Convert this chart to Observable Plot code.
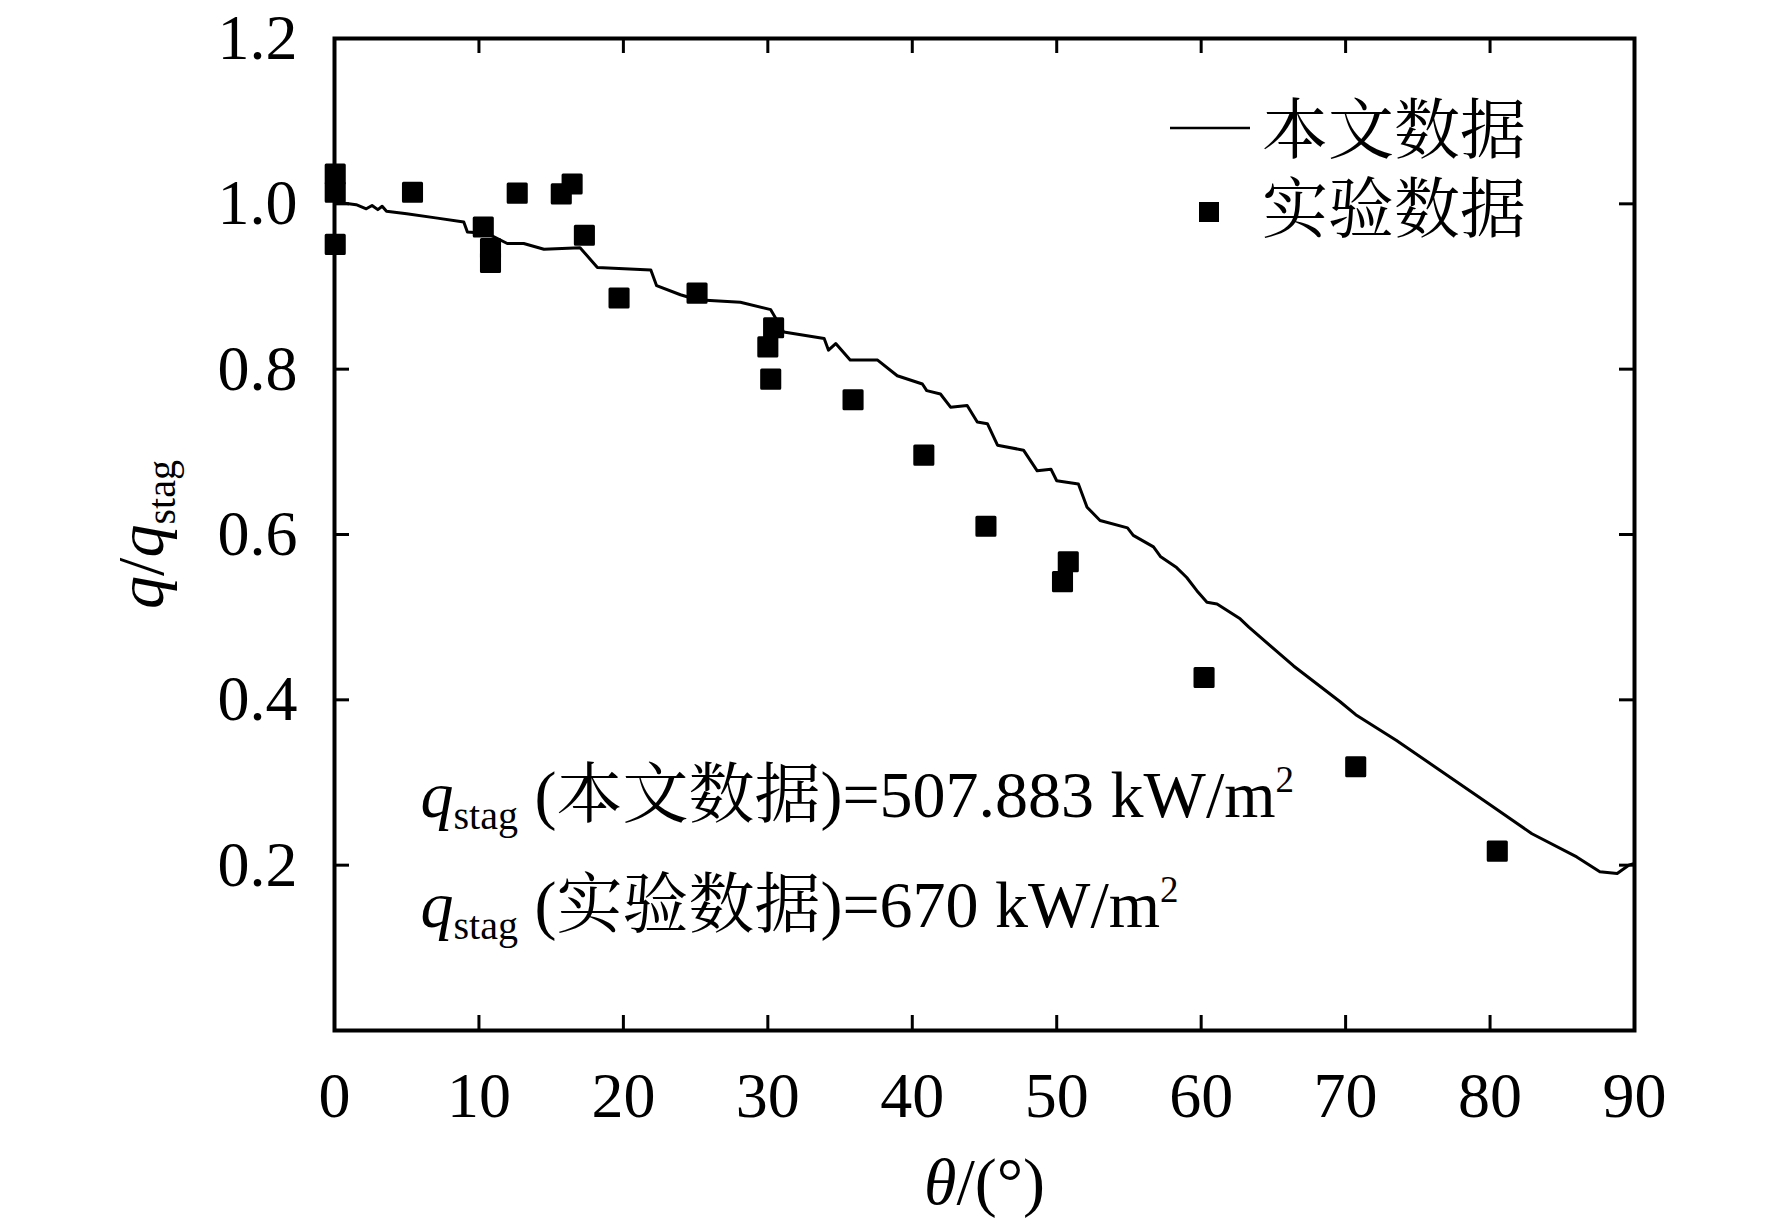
<!DOCTYPE html>
<html>
<head>
<meta charset="utf-8">
<script src="https://cdn.jsdelivr.net/npm/d3@7"></script>
<script src="https://cdn.jsdelivr.net/npm/@observablehq/plot@0.6"></script>
<style>
  html, body { margin: 0; padding: 0; background: white; }
  svg { display: block; }
</style>
</head>
<body>
<div id="chart"></div>
<script>
// Simulation curve (本文数据)
const thetaSim = [0, 0.2, 1.5, 2.2, 2.6, 3.0, 3.3, 3.6, 5, 7, 8.95, 9.2, 10.6, 11.96, 13.1, 14.5, 17.0, 18.2, 21.9, 22.3, 23.95, 25.1, 28.1, 30.2, 31.1, 33.9, 34.2, 34.7, 35.7, 37.6, 38.96, 40.7, 41.0, 41.95, 42.65, 43.8, 44.5, 45.2, 45.9, 47.7, 48.65, 49.6, 50.0, 51.5, 52.1, 53.0, 54.9, 55.3, 56.7, 57.2, 58.3, 59.0, 59.7, 60.4, 61.1, 62.7, 63.3, 66.4, 69.6, 70.7, 73.5, 76.6, 79.75, 82.9, 86.0, 87.6, 88.8, 89.6, 90];
const qSim = [1.003, 1.002, 0.999, 0.994, 0.998, 0.993, 0.997, 0.991, 0.988, 0.983, 0.978, 0.966, 0.964, 0.952, 0.952, 0.945, 0.947, 0.923, 0.920, 0.901, 0.890, 0.884, 0.881, 0.872, 0.845, 0.837, 0.823, 0.831, 0.811, 0.811, 0.792, 0.782, 0.774, 0.770, 0.754, 0.756, 0.736, 0.734, 0.708, 0.702, 0.677, 0.679, 0.665, 0.661, 0.633, 0.617, 0.608, 0.599, 0.585, 0.573, 0.560, 0.548, 0.532, 0.518, 0.516, 0.498, 0.488, 0.441, 0.398, 0.382, 0.351, 0.314, 0.276, 0.238, 0.210, 0.192, 0.190, 0.200, 0.202];

// Experimental points (实验数据)
const thetaExp = [0.05, 0.05, 0.05, 5.4, 10.3, 10.8, 10.8, 12.65, 15.7, 16.45, 17.3, 19.7, 25.1, 30.0, 30.2, 30.4, 35.9, 40.8, 45.1, 50.4, 50.8, 60.2, 70.7, 80.5];
const qExp = [1.036, 1.014, 0.951, 1.014, 0.972, 0.946, 0.929, 1.013, 1.012, 1.024, 0.962, 0.886, 0.892, 0.827, 0.788, 0.850, 0.763, 0.696, 0.610, 0.543, 0.567, 0.427, 0.319, 0.217];

const xTicks = [0, 10, 20, 30, 40, 50, 60, 70, 80, 90];
const yTicks = [0.2, 0.4, 0.6, 0.8, 1.0, 1.2];
const xTicksInner = [10, 20, 30, 40, 50, 60, 70, 80];
const yTicksInner = [0.2, 0.4, 0.6, 0.8, 1.0];

const legendLabels = ["本文数据", "实验数据"];
const annot1 = {cjk: "本文数据", value: "507.883"};
const annot2 = {cjk: "实验数据", value: "670"};

const sim = thetaSim.map((t, i) => ({theta: t, q: qSim[i]}));
const exp = thetaExp.map((t, i) => ({theta: t, q: qExp[i]}));

const W = 1772, H = 1222;
const mL = 334, mR = 138, mT = 38, mB = 192;
const fw = W - mL - mR, fh = H - mT - mB;
const tickLen = 15;
const FONT = "'Liberation Serif', 'Times New Roman', 'Noto Serif CJK SC', 'Noto Sans CJK SC', serif";

const chart = Plot.plot({
  width: W, height: H,
  marginLeft: mL, marginRight: mR, marginTop: mT, marginBottom: mB,
  x: {domain: [0, 90]},
  y: {domain: [0, 1.2]},
  style: {fontFamily: FONT, fontSize: "64px", color: "black", background: "white"},
  marks: [
    Plot.tickX(xTicksInner, {x: d => d, insetTop: fh - tickLen, stroke: "black", strokeWidth: 3}),
    Plot.tickX(xTicksInner, {x: d => d, insetBottom: fh - tickLen, stroke: "black", strokeWidth: 3}),
    Plot.tickY(yTicksInner, {y: d => d, insetRight: fw - tickLen, stroke: "black", strokeWidth: 3}),
    Plot.tickY(yTicksInner, {y: d => d, insetLeft: fw - tickLen, stroke: "black", strokeWidth: 3}),
    Plot.axisX({ticks: xTicks, tickSize: 0, tickPadding: 41, tickFormat: d => String(d), label: null, fontSize: 64}),
    Plot.axisY({ticks: yTicks, tickSize: 0, tickPadding: 37, tickFormat: d => d.toFixed(1), label: null, fontSize: 64}),
    Plot.line(sim, {x: "theta", y: "q", stroke: "black", strokeWidth: 3}),
    Plot.dot(exp, {x: "theta", y: "q", symbol: "square", r: 10.2, fill: "black", stroke: "black", strokeWidth: 3, strokeLinejoin: "round"}),
    Plot.frame({stroke: "black", strokeWidth: 4}),
    Plot.text(["@YLABEL"], {frameAnchor: "left", dx: -172, rotate: -90, textAnchor: "middle", lineAnchor: "bottom", fontSize: 66}),
    Plot.text(["@XLABEL"], {frameAnchor: "bottom", dy: 173, textAnchor: "middle", lineAnchor: "bottom", fontSize: 66}),
    Plot.text(["@ANNOT1"], {frameAnchor: "top-left", dx: 86, dy: 778, textAnchor: "start", lineAnchor: "bottom", fontSize: 66}),
    Plot.text(["@ANNOT2"], {frameAnchor: "top-left", dx: 86, dy: 888, textAnchor: "start", lineAnchor: "bottom", fontSize: 66})
  ]
});

const svg = d3.select(chart);

function rich(key, parts) {
  const t = svg.selectAll("text").filter(function () { return this.textContent === key; });
  t.text(null);
  for (const p of parts) {
    const s = t.append("tspan").text(p.t);
    if (p.italic) s.attr("font-style", "italic");
    if (p.size) s.attr("font-size", p.size);
    if (p.dy) s.attr("dy", p.dy);
  }
}

rich("@YLABEL", [
  {t: "q", italic: true},
  {t: "/"},
  {t: "q", italic: true},
  {t: "stag", size: 40, dy: 12}
]);
rich("@XLABEL", [
  {t: "θ", italic: true},
  {t: "/(°)"}
]);
function annotParts(a) {
  return [
    {t: "q", italic: true},
    {t: "stag", size: 40, dy: 12},
    {t: " (" + a.cjk + ")=" + a.value + " kW/m", dy: -12},
    {t: "2", size: 37, dy: -25},
  ];
}
rich("@ANNOT1", annotParts(annot1));
rich("@ANNOT2", annotParts(annot2));

// Legend (inside plot, upper right)
const lg = svg.append("g").attr("aria-label", "legend").attr("text-anchor", "start");
lg.append("line").attr("x1", 1170).attr("x2", 1250).attr("y1", 128).attr("y2", 128)
  .attr("stroke", "black").attr("stroke-width", 2.5);
lg.append("rect").attr("x", 1199).attr("y", 202).attr("width", 20).attr("height", 20).attr("fill", "black");
lg.append("text").attr("x", 1262).attr("y", 153).attr("font-size", 66).attr("fill", "black").text(legendLabels[0]);
lg.append("text").attr("x", 1262).attr("y", 232).attr("font-size", 66).attr("fill", "black").text(legendLabels[1]);

document.getElementById("chart").appendChild(chart);
</script>
</body>
</html>
